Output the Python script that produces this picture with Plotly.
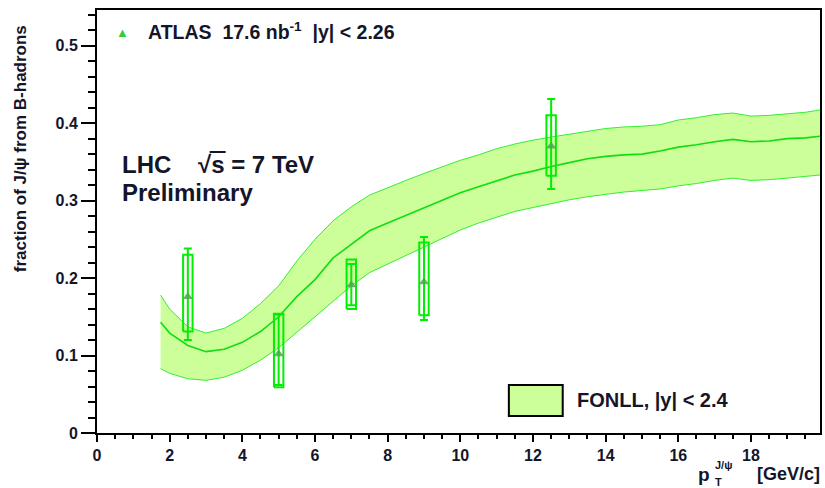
import plotly.graph_objects as go

# ATLAS measurement: non-prompt J/psi fraction vs pT
pt = [2.5, 5.0, 7.0, 9.0, 12.5]
frac = [0.176, 0.102, 0.191, 0.195, 0.370]
stat_plus = [0.062, 0.051, 0.027, 0.058, 0.061]
stat_minus = [0.056, 0.040, 0.026, 0.049, 0.055]
syst_plus = [0.054, 0.052, 0.033, 0.051, 0.040]
syst_minus = [0.045, 0.043, 0.031, 0.043, 0.038]

# FONLL prediction band, |y| < 2.4
fonll_pt = [1.75, 2.0, 2.5, 3.0, 3.5, 4.0, 4.5, 5.0, 5.5, 6.0, 6.5, 7.0, 7.5, 8.0,
            8.5, 9.0, 9.5, 10.0, 10.5, 11.0, 11.5, 12.0, 12.5, 13.0, 13.5, 14.0,
            14.5, 15.0, 15.5, 16.0, 16.5, 17.0, 17.5, 18.0, 18.5, 19.0, 19.5, 19.9]
fonll_central = [0.143, 0.129, 0.113, 0.105, 0.108, 0.117, 0.131, 0.150, 0.176, 0.198,
                 0.226, 0.244, 0.261, 0.271, 0.281, 0.291, 0.300, 0.310, 0.318, 0.326,
                 0.333, 0.338, 0.344, 0.349, 0.354, 0.357, 0.359, 0.360, 0.364, 0.369,
                 0.372, 0.376, 0.379, 0.376, 0.377, 0.380, 0.381, 0.383]
fonll_upper = [0.178, 0.160, 0.137, 0.129, 0.135, 0.148, 0.167, 0.190, 0.222, 0.250,
               0.274, 0.292, 0.307, 0.317, 0.326, 0.335, 0.344, 0.352, 0.359, 0.367,
               0.373, 0.378, 0.382, 0.386, 0.390, 0.393, 0.395, 0.396, 0.398, 0.404,
               0.407, 0.411, 0.413, 0.409, 0.410, 0.412, 0.414, 0.417]
fonll_lower = [0.083, 0.077, 0.070, 0.068, 0.072, 0.081, 0.094, 0.110, 0.130, 0.150,
               0.170, 0.190, 0.207, 0.218, 0.229, 0.240, 0.251, 0.262, 0.271, 0.279,
               0.286, 0.291, 0.296, 0.301, 0.305, 0.308, 0.311, 0.313, 0.315, 0.319,
               0.322, 0.326, 0.329, 0.326, 0.327, 0.329, 0.331, 0.333]

X_RANGE = [0, 19.9]
Y_RANGE = [0, 0.546]
BOX_HALF = 0.13

BAND_FILL = "#ccff99"
BAND_EDGE = "#33ee33"
DATA_GREEN = "#00ee00"
FONT = "Liberation Sans"
TXT = "#15152a"

fig = go.Figure()

# band: lower edge then upper edge filled to it
fig.add_trace(go.Scatter(x=fonll_pt, y=fonll_lower, mode="lines",
                         line=dict(color=BAND_EDGE, width=1), showlegend=False,
                         hoverinfo="skip"))
fig.add_trace(go.Scatter(x=fonll_pt, y=fonll_upper, mode="lines", fill="tonexty",
                         fillcolor=BAND_FILL, line=dict(color=BAND_EDGE, width=1),
                         showlegend=False, hoverinfo="skip"))
fig.add_trace(go.Scatter(x=fonll_pt, y=fonll_central, mode="lines",
                         line=dict(color="#11dd11", width=1.6), showlegend=False,
                         hoverinfo="skip"))

# systematic boxes
for xv, yv, sp, sm in zip(pt, frac, syst_plus, syst_minus):
    x0, x1 = xv - BOX_HALF, xv + BOX_HALF
    y0, y1 = yv - sm, yv + sp
    fig.add_trace(go.Scatter(x=[x0, x1, x1, x0, x0], y=[y0, y0, y1, y1, y0],
                             mode="lines", line=dict(color=DATA_GREEN, width=2),
                             showlegend=False, hoverinfo="skip"))

# points with statistical errors
fig.add_trace(go.Scatter(
    x=pt, y=frac, mode="markers",
    marker=dict(symbol="triangle-up", size=9, color="rgba(80,165,80,0.85)"),
    error_y=dict(type="data", symmetric=False, array=stat_plus, arrayminus=stat_minus,
                 color=DATA_GREEN, thickness=2, width=4),
    showlegend=False))

W, H = 825, 488
ML, MR, MT, MB = 97, 3, 10, 55
PW, PH = W - ML - MR, H - MT - MB


def px(xp):
    return (xp - ML) / PW


def py(yp):
    return (H - MB - yp) / PH


annotations = [
    dict(x=px(123), y=py(32), text="▲", font=dict(color="#33cc33", size=13)),
    dict(x=px(146), y=py(31), xanchor="left",
         text="<b>ATLAS  17.6 nb<sup>-1</sup>  |y| < 2.26</b>",
         font=dict(size=19.5, color=TXT, family=FONT)),
    dict(x=px(120), y=py(164), xanchor="left", text="<b>LHC</b>",
         font=dict(size=24, color=TXT, family=FONT)),
    dict(x=px(196), y=py(164), xanchor="left", text="<b>√s = 7 TeV</b>",
         font=dict(size=24, color=TXT, family=FONT)),
    dict(x=px(120), y=py(193), xanchor="left", text="<b>Preliminary</b>",
         font=dict(size=24, color=TXT, family=FONT)),
    dict(x=px(576), y=py(400), xanchor="left", text="<b>FONLL, |y| < 2.4</b>",
         font=dict(size=20, color=TXT, family=FONT)),
    dict(x=px(20), y=py(149), textangle=-90,
         text="<b>fraction of J/ψ from B-hadrons</b>",
         font=dict(size=17, color=TXT, family=FONT)),
    dict(x=px(714), y=py(474), xanchor="right", text="<b>p</b>",
         font=dict(size=19, color=TXT, family=FONT)),
    dict(x=px(715), y=py(465), xanchor="left", text="<b>J/ψ</b>",
         font=dict(size=11, color=TXT, family=FONT)),
    dict(x=px(715), y=py(482), xanchor="left", text="<b>T</b>",
         font=dict(size=11, color=TXT, family=FONT)),
    dict(x=px(824), y=py(474), xanchor="right", text="<b>[GeV/c]</b>",
         font=dict(size=18, color=TXT, family=FONT)),
]
for a in annotations:
    a.update(xref="paper", yref="paper", showarrow=False)
    a.setdefault("xanchor", "center")
    a.setdefault("yanchor", "middle")

shapes = [
    # FONLL legend swatch
    dict(type="rect", xref="paper", yref="paper", x0=px(510), x1=px(564),
         y0=py(385), y1=py(416), fillcolor=BAND_FILL, line=dict(color="black", width=2)),
    # radical bar over "s"
    dict(type="line", xref="paper", yref="paper", x0=px(210), x1=px(226),
         y0=py(152), y1=py(152), line=dict(color=TXT, width=2)),
]

fig.update_layout(
    width=W, height=H,
    margin=dict(l=ML, r=MR, t=MT, b=MB),
    paper_bgcolor="white", plot_bgcolor="white",
    showlegend=False,
    annotations=annotations,
    shapes=shapes,
    xaxis=dict(range=X_RANGE, showgrid=False, zeroline=False,
               showline=True, linecolor="black", linewidth=2, mirror=True,
               ticks="outside", ticklen=7, tickwidth=2, tickcolor="black",
               minor=dict(ticks="outside", ticklen=4, tickwidth=1.5,
                          tickcolor="black", dtick=0.5, showgrid=False),
               tickfont=dict(size=16, color=TXT, family=FONT, weight="bold"),
               tickvals=[0, 2, 4, 6, 8, 10, 12, 14, 16, 18]),
    yaxis=dict(range=Y_RANGE, showgrid=False, zeroline=False,
               showline=True, linecolor="black", linewidth=2, mirror=True,
               ticks="outside", ticklen=14, tickwidth=2, tickcolor="black",
               minor=dict(ticks="outside", ticklen=7, tickwidth=1.5,
                          tickcolor="black", dtick=0.02, showgrid=False),
               tickfont=dict(size=16, color=TXT, family=FONT, weight="bold"),
               tickvals=[0, 0.1, 0.2, 0.3, 0.4, 0.5],
               ticktext=["0", "0.1", "0.2", "0.3", "0.4", "0.5"]),
)

fig.write_html("out.html")
